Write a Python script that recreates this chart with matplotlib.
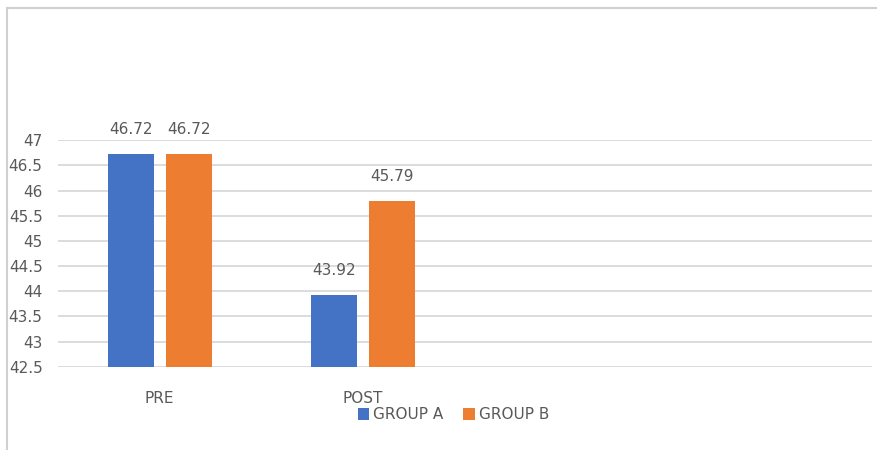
import matplotlib.pyplot as plt
from matplotlib.lines import Line2D
import numpy as np

plt.rcParams['font.family'] = ['Liberation Sans Narrow', 'DejaVu Sans']

categories = ["PRE", "POST", "", ""]
group_a = [46.72, 43.92]
group_b = [46.72, 45.79]
series_names = ["GROUP A", "GROUP B"]
y_ticks = np.arange(42.5, 47.01, 0.5)

blue = "#4472C4"
orange = "#ED7D31"
text_col = "#595959"
grid_col = "#D9D9D9"

fig = plt.figure(figsize=(8.77, 4.5), dpi=100)
ax = fig.add_axes([0.066, 0.1844, 0.928, 0.5045])

x = np.arange(len(group_a))
w = 0.226
off = 0.143
bars_a = ax.bar(x - off, group_a, w, color=blue, label=series_names[0], zorder=3)
bars_b = ax.bar(x + off, group_b, w, color=orange, label=series_names[1], zorder=3)

for bars in (bars_a, bars_b):
    for b in bars:
        h = b.get_height()
        ax.annotate("%.2f" % h, (b.get_x() + b.get_width() / 2, h),
                    xytext=(0, 18), textcoords="offset points",
                    ha="center", va="center", fontsize=11, color=text_col,
                    annotation_clip=False)

ax.set_xlim(-0.5, len(categories) - 0.5)
ax.set_ylim(42.495, 47.005)
ax.set_xticks(np.arange(len(categories)))
ax.set_xticklabels(categories)
ax.set_yticks(y_ticks)
ax.set_yticklabels(["%g" % t for t in y_ticks])
ax.tick_params(axis="x", length=0, pad=17, labelsize=11, labelcolor=text_col)
ax.tick_params(axis="y", length=0, pad=11, labelsize=11, labelcolor=text_col)
ax.grid(axis="y", color=grid_col, linewidth=1.3, zorder=0)
for s in ax.spines.values():
    s.set_visible(False)

fig.legend(loc="center", bbox_to_anchor=(0.517, 0.078), ncol=2, frameon=False,
           handlelength=0.75, handleheight=0.75, handletextpad=0.25,
           columnspacing=1.3, fontsize=11, labelcolor=text_col)

# outer frame (top and left only)
fig.add_artist(Line2D([7 / 877, 7 / 877], [0, 1 - 8 / 450], transform=fig.transFigure,
                      color="#D0D0D0", linewidth=1.5))
fig.add_artist(Line2D([7 / 877, 1], [1 - 8 / 450, 1 - 8 / 450], transform=fig.transFigure,
                      color="#D0D0D0", linewidth=1.5))

fig.savefig("out.png", dpi=100)
